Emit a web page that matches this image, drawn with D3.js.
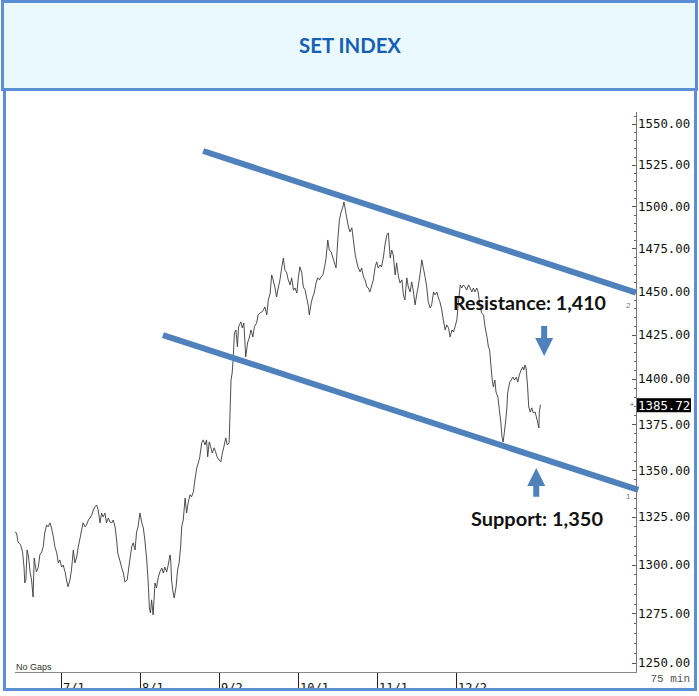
<!DOCTYPE html>
<html>
<head>
<meta charset="utf-8">
<script src="https://cdn.jsdelivr.net/npm/d3@7"></script>
<style>
  html, body { margin: 0; padding: 0; background: #fff; }
  svg { display: block; }
</style>
</head>
<body>
<svg id="chart" width="699" height="696"></svg>
<script>
// SET index, 75 min bars, x = trading day counted from 7/1
const barDay = [
  -12.2,-11.8,-11.4,-10.7,-10.2,-9.8,-9.6,-9.3,-9.0,-8.6,-8.2,-7.8,-7.4,-7.1,-6.7,-6.5,-6.0,-5.6,-5.1,-4.7,
  -4.3,-3.8,-3.4,-2.9,-2.5,-2.0,-1.6,-1.1,-0.7,-0.3,0.2,0.6,1.1,1.5,1.9,2.4,2.8,3.3,3.7,4.2,
  4.6,5.1,5.5,5.9,6.4,6.8,7.3,7.7,8.2,8.6,9.0,9.5,9.9,10.4,10.8,11.2,11.7,12.1,12.6,13.0,
  13.5,13.9,14.4,14.8,15.1,15.7,16.1,16.6,17.0,17.6,18.2,18.8,19.2,19.7,20.1,20.5,21.0,21.5,21.9,22.3,
  22.8,23.2,23.5,23.8,24.1,24.5,25.0,25.4,25.9,26.3,26.8,27.2,27.6,28.1,28.5,29.0,29.2,29.4,29.7,30.1,
  30.6,31.0,31.4,31.8,32.1,32.5,33.0,33.4,33.8,34.3,34.7,35.2,35.6,36.1,36.5,36.9,37.4,37.8,38.3,38.7,
  39.0,39.4,39.8,40.2,40.7,41.1,41.5,42.0,42.5,42.9,43.3,43.8,44.2,44.7,44.9,45.2,45.5,45.8,46.1,46.5,
  46.9,47.2,47.8,48.2,48.6,49.1,49.6,50.1,50.5,51.0,51.4,52.0,52.4,52.9,53.4,53.8,54.2,54.7,55.1,55.6,
  56.0,56.4,56.9,57.3,57.8,58.2,58.7,59.1,59.5,60.0,60.4,60.9,61.3,61.8,62.2,62.7,63.1,63.5,64.0,64.4,
  64.9,65.3,65.7,66.0,66.5,66.9,67.3,67.8,68.2,68.7,69.1,69.6,70.0,70.4,70.9,71.3,71.8,72.2,72.6,73.1,
  73.6,74.0,74.4,74.9,75.2,75.5,75.9,76.4,76.8,77.3,77.7,78.2,78.6,79.0,79.5,79.9,80.4,80.8,81.3,81.7,
  82.1,83.0,83.5,83.9,84.3,84.8,85.2,85.7,86.1,86.6,87.0,87.5,87.9,88.3,88.8,89.2,89.7,90.1,90.6,91.0,
  91.4,91.9,92.3,92.8,93.2,93.6,94.1,94.6,95.0,95.4,95.9,96.3,96.8,97.2,97.6,98.1,98.5,99.0,99.4,99.9,
  100.3,100.7,101.2,101.6,102.1,102.5,103.0,103.4,103.9,104.3,104.7,105.2,105.6,106.1,106.5,106.9,107.4,107.8,108.3,108.7,
  109.2,109.6,110.0,110.5,110.9,111.4,111.8,112.3,112.7,113.2,113.6,113.9,114.2,114.6,114.9,115.3,115.6,116.1,116.5,116.9,
  117.2,117.5,117.8,118.2,118.5,118.7,119.2,119.6,120.1,120.5,121.0,121.4,121.8,122.3,122.7,123.0,123.3,123.6,124.0,124.3,
  124.7,125.1,125.5,126.0,126.4,126.7,127.0,127.1,127.4
];
const barClose = [
  1317.1,1316.6,1311.9,1310.3,1306.7,1298.8,1290.6,1292.1,1307.7,1304.0,1296.3,1292.1,1283.4,1303.5,1298.3,1296.3,1298.8,1305.1,1306.7,1309.3,
  1316.6,1320.8,1319.8,1321.9,1319.2,1314.5,1309.3,1306.1,1300.9,1302.5,1298.8,1299.8,1296.3,1292.1,1288.6,1292.1,1297.3,1307.7,1300.9,1304.0,
  1309.3,1314.0,1318.2,1321.9,1319.8,1320.8,1323.4,1324.5,1326.1,1328.7,1330.3,1331.4,1328.7,1321.9,1327.1,1325.0,1327.1,1321.9,1324.5,1322.4,
  1321.9,1323.4,1319.8,1312.9,1306.1,1301.9,1298.8,1295.7,1291.1,1292.1,1300.9,1309.3,1311.4,1307.7,1317.1,1319.8,1327.1,1321.9,1319.2,1312.9,
  1302.5,1290.6,1277.8,1275.2,1281.9,1274.2,1290.6,1288.0,1293.7,1296.3,1298.3,1295.7,1298.8,1296.3,1299.8,1305.1,1301.4,1292.1,1287.0,1282.9,
  1288.6,1297.3,1300.9,1309.3,1319.8,1323.4,1335.1,1327.1,1332.5,1336.8,1335.7,1338.4,1344.8,1351.2,1353.9,1357.2,1364.8,1366.4,1363.7,1366.4,
  1357.2,1365.3,1362.6,1359.3,1362.1,1359.9,1357.2,1355.5,1354.5,1359.3,1362.6,1367.5,1363.7,1364.8,1379.0,1399.4,1403.4,1412.4,1426.0,1427.7,
  1418.1,1429.4,1432.3,1428.8,1431.7,1412.4,1420.3,1423.7,1427.7,1423.7,1429.4,1431.7,1436.3,1437.4,1438.0,1439.2,1440.9,1436.3,1444.9,1448.9,
  1459.4,1456.5,1451.8,1446.6,1452.4,1456.5,1464.1,1469.3,1462.3,1460.6,1456.5,1453.6,1457.7,1450.6,1451.8,1448.9,1458.2,1464.1,1460.6,1452.4,
  1450.6,1446.0,1442.0,1436.3,1443.2,1446.6,1448.9,1454.7,1457.7,1456.5,1458.2,1459.4,1463.5,1468.2,1479.9,1474.0,1472.8,1469.9,1467.0,1463.5,
  1481.1,1491.8,1496.0,1499.5,1502.5,1498.9,1493.6,1487.6,1484.7,1487.1,1479.9,1471.1,1467.0,1463.5,1461.2,1463.5,1458.2,1456.5,1452.4,1451.8,
  1449.5,1456.5,1464.1,1467.0,1463.5,1465.2,1464.1,1469.9,1477.0,1482.9,1484.1,1469.3,1474.0,1471.1,1459.4,1466.4,1458.2,1454.7,1456.5,1447.8,
  1444.9,1457.7,1452.4,1449.5,1455.3,1450.6,1442.0,1448.9,1453.6,1459.4,1468.2,1463.5,1457.7,1452.4,1443.8,1440.3,1442.0,1449.5,1447.8,1449.5,
  1446.0,1443.8,1439.2,1433.4,1427.7,1430.6,1428.8,1423.7,1427.7,1426.5,1429.4,1433.4,1443.2,1453.6,1451.8,1453.6,1452.4,1450.6,1453.6,1451.8,
  1449.5,1451.8,1449.5,1451.8,1448.9,1440.9,1437.4,1436.3,1429.4,1423.7,1418.1,1416.4,1409.0,1399.4,1395.6,1399.4,1392.8,1390.0,1382.9,1375.7,
  1368.0,1365.3,1370.2,1377.3,1384.5,1392.3,1397.8,1399.4,1401.1,1399.4,1401.1,1398.3,1402.3,1405.1,1406.8,1405.1,1407.9,1406.2,1395.6,1384.5,
  1381.7,1384.0,1381.2,1381.7,1378.4,1375.7,1372.9,1381.2,1385.72
];

const monthLabels = ["7/1", "8/1", "9/2", "10/1", "11/1", "12/2"];
const monthDays = [0, 21, 42, 63, 84, 105];
const priceTicks = [1250, 1275, 1300, 1325, 1350, 1375, 1400, 1425, 1450, 1475, 1500, 1525, 1550];
const lastPrice = 1385.72;

// channel drawn on the chart: [day, price] at each end
const resistanceLine = [[37.8, 1533.4], [152.8, 1449.1]];
const supportLine = [[27.1, 1424.8], [153.4, 1339.4]];

const svg = d3.select("#chart");
const frameBlue = "#5b8fd5";
const lineBlue = "#4f81bd";

// frames
svg.append("rect")
  .attr("x", 2.5).attr("y", 1.5).attr("width", 694).attr("height", 88)
  .attr("fill", "#e9f9fd").attr("stroke", frameBlue).attr("stroke-width", 3);

svg.append("text")
  .attr("x", 350).attr("y", 53)
  .attr("text-anchor", "middle")
  .attr("textLength", 102).attr("lengthAdjust", "spacingAndGlyphs")
  .attr("font-family", "Lato, 'Open Sans', sans-serif")
  .attr("font-weight", "bold")
  .attr("font-size", 20)
  .attr("fill", "#1560b3")
  .text("SET INDEX");

let x = d3.scaleLinear().domain([-12.2, 152.8]).range([15, 636]);
let y = d3.scaleLog().domain([1250, 1550]).range([663, 124]);

const plot = svg.append("g");

// y axis on the right
const axisX = 636;
plot.append("line")
  .attr("x1", axisX + 0.5).attr("x2", axisX + 0.5)
  .attr("y1", 112).attr("y2", 672)
  .attr("stroke", "#777").attr("stroke-width", 1);

let minor = d3.range(1250, 1556, 5).filter(v => v % 25 !== 0);
plot.selectAll("line.minor").data(minor).join("line")
  .attr("class", "minor")
  .attr("x1", axisX - 2).attr("x2", axisX)
  .attr("y1", d => Math.round(y(d)) + 0.5).attr("y2", d => Math.round(y(d)) + 0.5)
  .attr("stroke", "#666");

plot.selectAll("line.major").data(priceTicks).join("line")
  .attr("class", "major")
  .attr("x1", axisX - 4).attr("x2", axisX)
  .attr("y1", d => Math.round(y(d)) + 0.5).attr("y2", d => Math.round(y(d)) + 0.5)
  .attr("stroke", "#555");

plot.selectAll("text.ylab").data(priceTicks).join("text")
  .attr("class", "ylab")
  .attr("x", 638).attr("y", d => y(d))
  .attr("dy", "0.36em")
  .attr("font-family", "'DejaVu Sans Mono', monospace")
  .attr("font-size", 12.4)
  .attr("fill", "#111")
  .text(d => d3.format(".2f")(d));

// x axis
plot.append("line")
  .attr("x1", 15).attr("x2", axisX + 1)
  .attr("y1", 672.5).attr("y2", 672.5)
  .attr("stroke", "#888");

plot.selectAll("line.xtick").data(monthDays).join("line")
  .attr("class", "xtick")
  .attr("x1", d => Math.round(x(d)) + 0.5).attr("x2", d => Math.round(x(d)) + 0.5)
  .attr("y1", 673).attr("y2", 692)
  .attr("stroke", "#222");

plot.selectAll("text.xlab").data(monthDays).join("text")
  .attr("class", "xlab")
  .attr("x", d => Math.round(x(d)) + 2).attr("y", 692)
  .attr("font-family", "'DejaVu Sans Mono', monospace")
  .attr("font-size", 12)
  .attr("fill", "#111")
  .text((d, i) => monthLabels[i]);

plot.append("text")
  .attr("x", 16).attr("y", 670)
  .attr("font-family", "'Liberation Sans', Arial, sans-serif")
  .attr("font-size", 9)
  .attr("fill", "#333")
  .text("No Gaps");

plot.append("text")
  .attr("x", 690).attr("y", 682)
  .attr("text-anchor", "end")
  .attr("font-family", "'Liberation Mono', 'Courier New', monospace")
  .attr("font-size", 11)
  .attr("fill", "#555")
  .text("75 min");

// price line
const priceLine = d3.line()
  .x(d => x(d[0]))
  .y(d => y(d[1]));

plot.append("path")
  .datum(barDay.map((d, i) => [d, barClose[i]]))
  .attr("d", priceLine)
  .attr("fill", "none")
  .attr("stroke", "#3a3a3a")
  .attr("stroke-width", 0.9)
  .attr("stroke-linejoin", "round");

// channel lines
for (let seg of [resistanceLine, supportLine]) {
  plot.append("path")
    .datum(seg)
    .attr("d", priceLine)
    .attr("stroke", lineBlue)
    .attr("stroke-width", 6);
}

plot.append("text").attr("x", 626).attr("y", 308)
  .attr("font-family", "'Liberation Sans', sans-serif").attr("font-size", 8).attr("fill", "#777").text("2");
plot.append("text").attr("x", 626).attr("y", 499)
  .attr("font-family", "'Liberation Sans', sans-serif").attr("font-size", 8).attr("fill", "#777").text("1");

// last price marker
plot.append("text").attr("x", 632).attr("y", y(lastPrice))
  .attr("dy", "0.35em").attr("text-anchor", "middle")
  .attr("font-family", "'Liberation Sans', sans-serif").attr("font-size", 7).attr("fill", "#555").text("+");
plot.append("rect")
  .attr("x", 637).attr("y", y(lastPrice) - 6.5)
  .attr("width", 54).attr("height", 14)
  .attr("fill", "#000");
plot.append("text")
  .attr("x", 638).attr("y", y(lastPrice) + 0.5)
  .attr("dy", "0.36em")
  .attr("font-family", "'DejaVu Sans Mono', monospace")
  .attr("font-size", 12.4)
  .attr("fill", "#fff")
  .text(d3.format(".2f")(lastPrice));

// annotation arrows
function arrow(day, fromPrice, toPrice) {
  let cx = x(day), y0 = y(fromPrice), y1 = y(toPrice);
  let dir = y1 > y0 ? 1 : -1;
  let headLen = 18, shaft = 3, head = 9;
  let yh = y1 - dir * headLen;
  let p = d3.path();
  p.moveTo(cx - shaft, y0);
  p.lineTo(cx + shaft, y0);
  p.lineTo(cx + shaft, yh);
  p.lineTo(cx + head, yh);
  p.lineTo(cx, y1);
  p.lineTo(cx - head, yh);
  p.lineTo(cx - shaft, yh);
  p.closePath();
  plot.append("path").attr("d", p.toString()).attr("fill", lineBlue);
}
arrow(128.4, 1430.0, 1413.0);
arrow(126.3, 1335.7, 1351.2);

plot.append("text")
  .attr("x", 453).attr("y", 310)
  .attr("textLength", 153).attr("lengthAdjust", "spacingAndGlyphs")
  .attr("font-family", "Lato, 'Open Sans', sans-serif")
  .attr("font-weight", "bold").attr("font-size", 19)
  .attr("fill", "#111")
  .text("Resistance: 1,410");

plot.append("text")
  .attr("x", 471).attr("y", 526)
  .attr("textLength", 132).attr("lengthAdjust", "spacingAndGlyphs")
  .attr("font-family", "Lato, 'Open Sans', sans-serif")
  .attr("font-weight", "bold").attr("font-size", 19)
  .attr("fill", "#111")
  .text("Support: 1,350");

// chart frame drawn last so it covers the cut date labels
svg.append("rect")
  .attr("x", 4.5).attr("y", 89.5).attr("width", 691).attr("height", 600)
  .attr("fill", "none").attr("stroke", frameBlue).attr("stroke-width", 3);
svg.append("rect")
  .attr("x", 0).attr("y", 691).attr("width", 699).attr("height", 5)
  .attr("fill", "#fff");
</script>
</body>
</html>
